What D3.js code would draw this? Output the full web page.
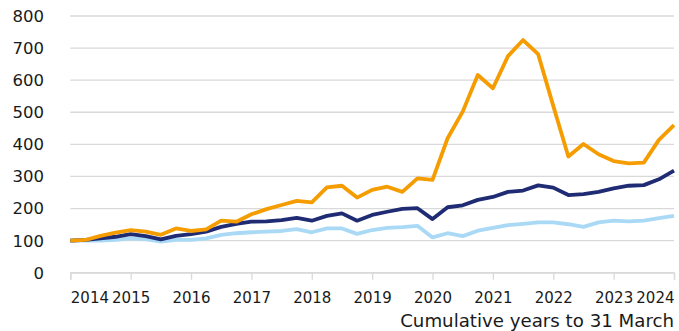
<!DOCTYPE html>
<html>
<head>
<meta charset="utf-8">
<script src="https://cdn.jsdelivr.net/npm/d3@7/dist/d3.min.js"></script>
<style>
  html, body { margin: 0; padding: 0; background: #fff; }
  svg { display: block; font-family: "DejaVu Sans", sans-serif; }
</style>
</head>
<body>
<svg id="chart" width="679" height="331"></svg>
<script>
// Quarterly periods, cumulative years to 31 March (index = 100 at start)
const startYear = 2014;
const yearTicks = [2014, 2015, 2016, 2017, 2018, 2019, 2020, 2021, 2022, 2023, 2024];
const yTicks = [0, 100, 200, 300, 400, 500, 600, 700, 800];

const seriesOrange = [100, 102, 115, 125, 133, 128, 118, 138, 130, 135,
  162, 159, 182, 198, 211, 224, 219, 266, 271, 234,
  258, 268, 252, 294, 289, 419, 502, 616, 575, 675,
  725, 681, 520, 362, 401, 369, 348, 341, 343, 414, 460];
const seriesNavy = [100, 102, 107, 112, 120, 114, 104, 115, 120, 128,
  143, 152, 159, 160, 164, 171, 162, 177, 185, 162,
  180, 190, 199, 201, 167, 204, 210, 227, 236, 252,
  256, 272, 265, 242, 245, 252, 263, 271, 273, 291, 318];
const seriesLight = [100, 100, 100, 102, 107, 105, 97, 102, 102, 107,
  118, 123, 126, 128, 130, 136, 126, 138, 138, 121,
  133, 140, 142, 146, 110, 123, 114, 131, 140, 148,
  152, 157, 157, 151, 143, 157, 162, 160, 162, 170, 177];

const svg = d3.select("#chart");
const plotLeft = 70.3, plotRight = 674, plotTop = 16, plotBottom = 272.7;

const x = d3.scaleLinear().domain([2014, 2024]).range([plotLeft, plotRight]);
const y = d3.scaleLinear().domain([0, 800]).range([plotBottom, plotTop]);
const textColor = "#1a1a1a";

// Horizontal gridlines
svg.append("g")
  .selectAll("line")
  .data(yTicks)
  .join("line")
  .attr("x1", plotLeft).attr("x2", plotRight)
  .attr("y1", d => y(d)).attr("y2", d => y(d))
  .attr("stroke", "#d9d9d9").attr("stroke-width", 1.3);

// Y axis labels
svg.append("g")
  .selectAll("text")
  .data(yTicks)
  .join("text")
  .attr("x", 44)
  .attr("y", d => y(d))
  .attr("dy", "0.36em")
  .attr("text-anchor", "end")
  .attr("font-size", 16.5)
  .attr("fill", textColor)
  .text(d => d);

// X axis with year tick marks
const xAxis = d3.axisBottom(x)
  .tickValues(yearTicks)
  .tickSize(7)
  .tickFormat(d3.format("d"));
const gx = svg.append("g")
  .attr("transform", `translate(0,${plotBottom})`)
  .call(xAxis);
gx.select(".domain").attr("stroke", "#d9d9d9").attr("stroke-width", 1.3);
gx.selectAll(".tick line").attr("stroke", "#d9d9d9").attr("stroke-width", 1.3);
gx.selectAll(".tick text")
  .attr("font-family", "DejaVu Sans, sans-serif")
  .attr("font-size", 15)
  .attr("fill", textColor)
  .attr("y", 30)
  .attr("dy", 0)
  .attr("text-anchor", (d, i, n) => i === 0 ? "start" : (i === n.length - 1 ? "end" : "middle"));

// Axis title
svg.append("text")
  .attr("x", plotRight)
  .attr("y", 327)
  .attr("text-anchor", "end")
  .attr("font-size", 18.2)
  .attr("fill", textColor)
  .text("Cumulative years to 31 March");

// Lines
const line = d3.line()
  .x((d, i) => x(startYear + i / 4))
  .y(d => y(d));

const series = [
  { values: seriesLight, color: "#a9d9f5" },
  { values: seriesNavy, color: "#1f2b73" },
  { values: seriesOrange, color: "#f59d00" }
];

svg.append("g")
  .selectAll("path")
  .data(series)
  .join("path")
  .attr("d", d => line(d.values))
  .attr("fill", "none")
  .attr("stroke", d => d.color)
  .attr("stroke-width", 3.8)
  .attr("stroke-linejoin", "round")
  .attr("stroke-linecap", "butt");
</script>
</body>
</html>
